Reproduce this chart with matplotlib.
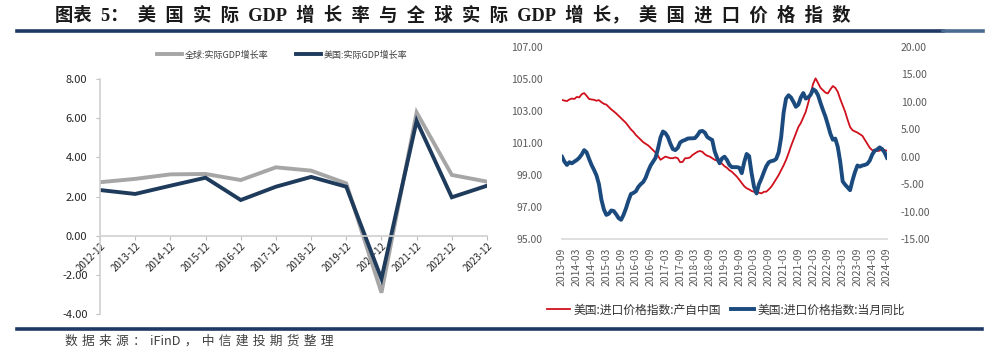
import matplotlib
matplotlib.use('Agg')
import matplotlib.pyplot as plt
from matplotlib.lines import Line2D
import numpy as np

plt.rcParams['font.family'] = ['Noto Sans CJK SC', 'DejaVu Sans']

# ---------------- data: left chart ----------------
gdp_years = ['2012-12', '2013-12', '2014-12', '2015-12', '2016-12', '2017-12',
             '2018-12', '2019-12', '2020-12', '2021-12', '2022-12', '2023-12']
global_gdp = [2.73, 2.90, 3.13, 3.15, 2.84, 3.49, 3.32, 2.67, -2.91, 6.29, 3.10, 2.76]
us_gdp = [2.33, 2.13, 2.55, 2.96, 1.82, 2.50, 3.00, 2.50, -2.20, 5.86, 1.96, 2.55]

# ---------------- data: right chart (monthly 2013-09 .. 2024-09) ----------------
month_ticks = ['2013-09', '2014-03', '2014-09', '2015-03', '2015-09', '2016-03',
               '2016-09', '2017-03', '2017-09', '2018-03', '2018-09', '2019-03',
               '2019-09', '2020-03', '2020-09', '2021-03', '2021-09', '2022-03',
               '2022-09', '2023-03', '2023-09', '2024-03', '2024-09']

china_import_idx = [
    103.69, 103.65, 103.62, 103.72, 103.78, 103.75, 103.88, 103.85, 104.05, 104.12,
    103.95, 103.75, 103.72, 103.70, 103.64, 103.68, 103.55, 103.45, 103.40, 103.25,
    103.10, 102.98, 102.85, 102.70, 102.55, 102.40, 102.25, 102.05, 101.85, 101.70,
    101.50, 101.35, 101.20, 101.05, 100.95, 100.85, 100.70, 100.55, 100.40, 100.20,
    99.95, 100.05, 100.15, 100.10, 100.05, 100.05, 100.10, 100.05, 99.80, 99.82,
    100.05, 100.05, 100.10, 100.25, 100.35, 100.45, 100.50, 100.45, 100.30, 100.20,
    100.15, 100.05, 99.95, 99.90, 99.82, 99.70, 99.55, 99.45, 99.30, 99.20,
    99.05, 98.90, 98.70, 98.50, 98.30, 98.17, 98.10, 98.00, 97.95, 97.85,
    97.90, 97.85, 97.95, 97.96, 98.10, 98.27, 98.50, 98.75, 99.00, 99.30,
    99.60, 99.94, 100.35, 100.80, 101.20, 101.60, 102.00, 102.25, 102.60, 102.95,
    103.50, 104.10, 104.70, 105.04, 104.75, 104.45, 104.30, 104.15, 104.10, 104.35,
    104.56, 104.45, 104.20, 103.75, 103.35, 102.95, 102.45, 102.00, 101.80, 101.72,
    101.65, 101.55, 101.45, 101.20, 100.95, 100.70, 100.55, 100.55, 100.50, 100.52,
    100.60, 100.55, 100.52]

import_yoy = [
    0.0, -0.9, -1.5, -1.0, -1.2, -0.9, -0.6, -0.2, 0.4, 1.2,
    0.8, -0.4, -1.5, -2.4, -3.4, -5.0, -7.8, -9.6, -10.6, -10.4,
    -9.8, -9.9, -10.5, -11.2, -11.5, -10.6, -9.4, -8.0, -6.8, -6.6,
    -6.3, -5.5, -5.0, -4.6, -3.8, -2.6, -1.6, -0.9, -0.2, 1.5,
    3.5, 4.6, 4.3, 3.6, 2.4, 1.4, 1.2, 1.6, 2.6, 2.9,
    3.05, 3.3, 3.35, 3.35, 3.4, 3.9, 4.6, 4.7, 4.4, 3.6,
    3.3, 3.05, 1.0, -0.2, -1.2, -0.3, 0.0, -0.6, -1.5, -1.9,
    -1.9, -1.9, -2.0, -3.0, -1.0, 0.5, 0.1, -3.0, -5.5, -6.7,
    -5.0, -4.0, -2.8, -1.7, -1.0, -0.8, -0.7, -0.4, 0.8, 3.5,
    8.0, 10.6, 11.2, 10.8, 10.0, 9.1, 9.5, 10.8, 11.6, 10.6,
    10.8, 11.3, 12.3, 12.0, 11.2, 9.8, 8.5, 7.3, 5.8, 4.2,
    3.1, 3.3, 1.8, -0.9, -4.5, -5.1, -5.6, -6.1, -4.3, -2.8,
    -1.6, -1.8, -1.6, -1.5, -1.3, -0.7, 0.4, 1.1, 1.3, 1.7,
    1.4, 0.8, -0.2]

W, H = 1004, 355
fig = plt.figure(figsize=(W / 100, H / 100), dpi=100)

def fx(px):
    return px / W

def fy(py):
    return 1 - py / H

# ---------------- title and rules ----------------
E = "\u2002"
title = ("图表" + E + "5：" + E + E.join("美国实际") + E + "GDP" + E
         + E.join("增长率与全球实际") + E + "GDP" + E + E.join("增长") + "，" + E
         + E.join("美国进口价格指数"))
fig.text(fx(55), fy(15), title, fontsize=13.2, fontweight='bold', ha='left',
         va='center', color='#1a1a1a',
         family=['Liberation Serif', 'Noto Sans CJK SC', 'DejaVu Sans'])
fig.add_artist(Line2D([fx(17), fx(943)], [fy(31), fy(31)], color='#1F3864', lw=2.6))
fig.add_artist(Line2D([fx(943), fx(983)], [fy(31), fy(31)], color='#4A6A8F', lw=2.6))
fig.add_artist(Line2D([fx(17), fx(982)], [fy(329), fy(329)], color='#1F3864', lw=2.6))

S = "\u2004"
source = S.join("数据来源：") + S + "iFinD" + S + S.join("，中信建投期货整理")
fig.text(fx(65), fy(341), source, fontsize=9.2,
         ha='left', va='center', color='#404040', style='italic')

# ---------------- left chart ----------------
axL = fig.add_axes([fx(100), fy(314), fx(487 - 100), (314 - 79) / H])
axL.spines['top'].set_visible(False)
axL.spines['right'].set_visible(False)
axL.spines['bottom'].set_position(('data', 0))
for s in ['left', 'bottom']:
    axL.spines[s].set_color('#D0D0D0')
    axL.spines[s].set_linewidth(1.2)
xl = np.arange(len(gdp_years))
axL.plot(xl, global_gdp, color='#A6A6A6', lw=2.8, solid_joinstyle='miter',
         label='全球:实际GDP增长率')
axL.plot(xl, us_gdp, color='#1F3B5C', lw=2.8, solid_joinstyle='miter',
         label='美国:实际GDP增长率')
axL.set_xlim(0, len(gdp_years) - 1)
axL.set_ylim(-4, 8)
axL.set_yticks([-4, -2, 0, 2, 4, 6, 8])
axL.set_yticklabels(['{:.2f}'.format(v) for v in [-4, -2, 0, 2, 4, 6, 8]])
axL.set_xticks(xl)
axL.set_xticklabels(gdp_years)
axL.tick_params(axis='y', length=3, color='#BFBFBF', labelsize=8, labelcolor='#262626', pad=6)
axL.tick_params(axis='x', length=3, color='#BFBFBF', labelsize=7, labelcolor='#262626',
                pad=1, labelrotation=45)
for lab in axL.get_xticklabels():
    lab.set_ha('right')
    lab.set_rotation_mode('anchor')
axL.patch.set_alpha(0)

fig.legend(handles=axL.get_lines(), loc='center', bbox_to_anchor=(fx(282), fy(55)),
           ncol=2, frameon=False, fontsize=6.5, handlelength=2.8, handletextpad=0.3,
           columnspacing=3.0, labelcolor='#404040')

# ---------------- right chart ----------------
axR = fig.add_axes([fx(562), fy(239), fx(887 - 562), (239 - 47) / H])
xm = np.arange(len(china_import_idx))
axR.plot(xm, china_import_idx, color='#D0101C', lw=1.3,
         label='美国:进口价格指数:产自中国')
axR.set_xlim(0, len(china_import_idx) - 1)
axR.set_ylim(95, 107)
axR.set_yticks([95, 97, 99, 101, 103, 105, 107])
axR.set_yticklabels(['{:.2f}'.format(v) for v in [95, 97, 99, 101, 103, 105, 107]])
axR.set_xticks(np.arange(0, len(china_import_idx), 6))
axR.set_xticklabels(month_ticks, rotation=90)
for s in ['top', 'right', 'left']:
    axR.spines[s].set_visible(False)
axR.spines['bottom'].set_color('#D9D9D9')
axR.spines['bottom'].set_linewidth(1.2)
axR.tick_params(axis='y', length=0, labelsize=7.5, labelcolor='#595959', pad=14)
axR.tick_params(axis='x', length=0, labelsize=7.5, labelcolor='#595959', pad=6)

axR2 = axR.twinx()
axR2.plot(xm, import_yoy, color='#1B4A7E', lw=2.8, label='美国:进口价格指数:当月同比')
axR2.set_ylim(-15, 20)
axR2.set_yticks([-15, -10, -5, 0, 5, 10, 15, 20])
axR2.set_yticklabels(['{:.2f}'.format(v) for v in [-15, -10, -5, 0, 5, 10, 15, 20]])
for s in ['top', 'right', 'left', 'bottom']:
    axR2.spines[s].set_visible(False)
axR2.tick_params(axis='y', length=0, labelsize=7.5, labelcolor='#595959', pad=10)

fig.legend(handles=[axR.get_lines()[0], axR2.get_lines()[0]], loc='center',
           bbox_to_anchor=(fx(726), fy(310)), ncol=2, frameon=False, fontsize=8.5,
           handlelength=2.0, handletextpad=0.3, columnspacing=0.8, labelcolor='#333333')

fig.savefig('out.png', dpi=100)
